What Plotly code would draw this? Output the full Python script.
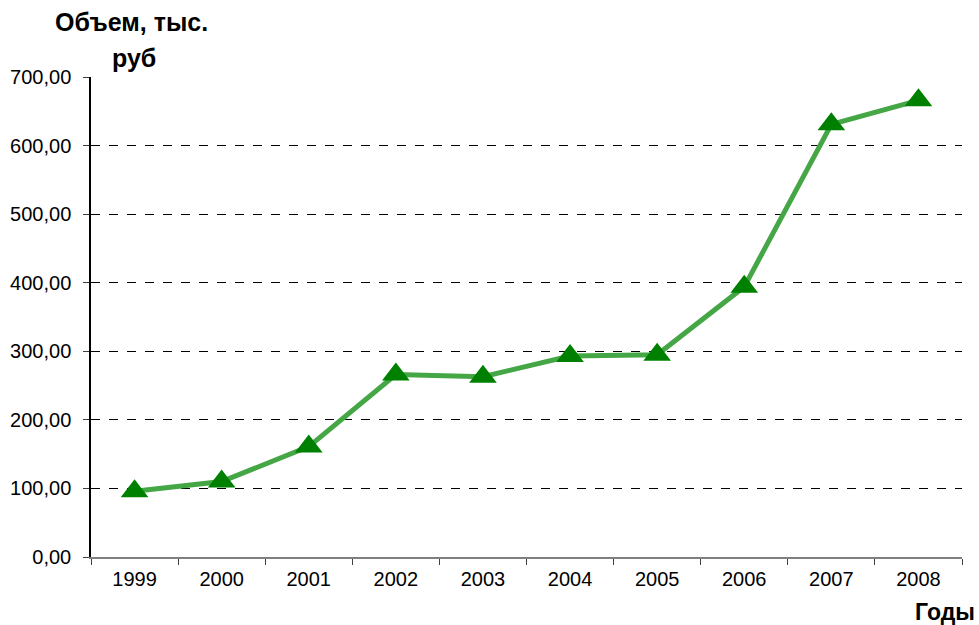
import plotly.graph_objects as go

years = ["1999", "2000", "2001", "2002", "2003", "2004", "2005", "2006", "2007", "2008"]
volume = [96, 110, 161, 266, 263, 293, 295, 394, 631, 666]
y_ticks = [0, 100, 200, 300, 400, 500, 600, 700]
y_tick_labels = ["0,00", "100,00", "200,00", "300,00", "400,00", "500,00", "600,00", "700,00"]

fig = go.Figure()
fig.add_trace(go.Scatter(
    x=years, y=volume, mode="lines+markers",
    line=dict(color="#44a644", width=5),
    marker=dict(symbol="triangle-up", size=24, color="#008000", line=dict(width=0)),
    showlegend=False,
))

fig.update_layout(
    width=979, height=625,
    margin=dict(l=91, r=17, t=77, b=68),
    paper_bgcolor="white", plot_bgcolor="white",
    font=dict(family="Liberation Sans, Arial, sans-serif", size=20, color="black"),
    xaxis=dict(
        type="category", showgrid=False, showline=True, linecolor="#808080", linewidth=2,
        ticks="outside", tickson="boundaries", ticklen=6, tickcolor="#404040", tickwidth=1,
        tickfont=dict(size=20), range=[-0.5, 9.5], ticklabelstandoff=3, automargin=False,
    ),
    yaxis=dict(
        range=[0, 700], tickvals=y_ticks, ticktext=y_tick_labels,
        showgrid=True, gridcolor="black", griddash="dash", gridwidth=1,
        showline=True, linecolor="black", linewidth=1.5,
        ticks="outside", ticklen=6, tickcolor="#404040", zeroline=False,
        tickfont=dict(size=20), ticklabelstandoff=8, automargin=False,
    ),
    annotations=[
        dict(text="<b>Объем, тыс.</b>", xref="paper", yref="paper",
             x=0.046, y=1.0, xanchor="center", yanchor="middle", yshift=55,
             showarrow=False, font=dict(size=25)),
        dict(text="<b>руб</b>", xref="paper", yref="paper",
             x=0.049, y=1.0, xanchor="center", yanchor="middle", yshift=19,
             showarrow=False, font=dict(size=25)),
        dict(text="<b>Годы</b>", xref="paper", yref="paper",
             x=1.0, y=0, xanchor="right", yanchor="middle", xshift=15, yshift=-55,
             showarrow=False, font=dict(size=23)),
    ],
)

fig.write_html("out.html")
